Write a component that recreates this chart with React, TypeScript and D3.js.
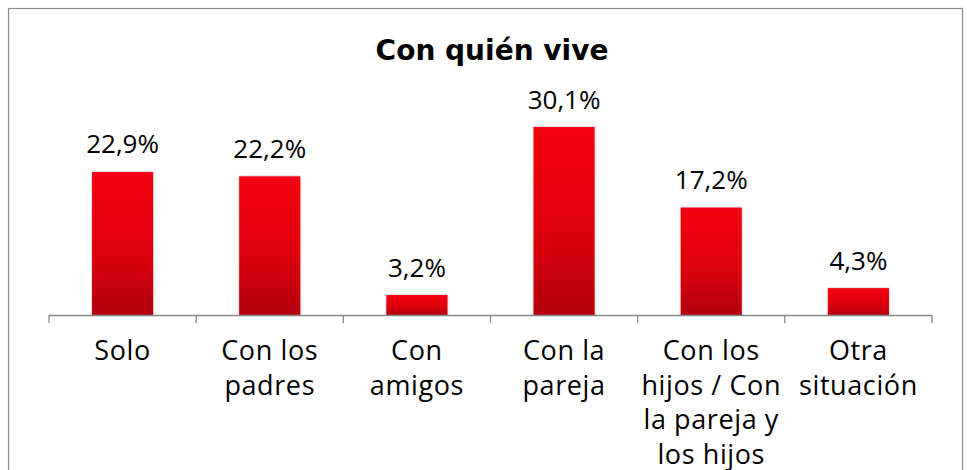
import React from "react";
import * as d3 from "d3";

const categories: string[][] = [
  ["Solo"],
  ["Con los", "padres"],
  ["Con", "amigos"],
  ["Con la", "pareja"],
  ["Con los", "hijos / Con", "la pareja y", "los hijos"],
  ["Otra", "situación"],
];
const values: number[] = [22.9, 22.2, 3.2, 30.1, 17.2, 4.3];
const title = "Con quién vive";

const W = 967;
const H = 470;
const FONT = "'Open Sans', 'DejaVu Sans', sans-serif";
const TITLE_FONT = "'DejaVu Sans', 'Open Sans', sans-serif";

export default function App() {
  const x = d3
    .scaleBand<number>()
    .domain(values.map((_, i) => i))
    .range([49, 932])
    .paddingInner(0.585)
    .paddingOuter(0.2925);
  const y = d3.scaleLinear().domain([0, 30.1]).range([315, 127]);
  const fmt = (v: number) => v.toFixed(1).replace(".", ",") + "%";
  const step = x.step();
  const ticks = d3.range(values.length + 1).map((i) => 49 + i * step);

  return (
    <svg
      width={W}
      height={H}
      style={{ position: "absolute", left: 0, top: 0, display: "block" }}
      fontFamily={FONT}
    >
      <defs>
        <linearGradient id="barGrad" x1="0" y1="0" x2="0" y2="1">
          <stop offset="0%" stopColor="#f40212" />
          <stop offset="55%" stopColor="#de000c" />
          <stop offset="100%" stopColor="#b30009" />
        </linearGradient>
        <filter id="sh" x="-20%" y="-20%" width="140%" height="140%">
          <feGaussianBlur in="SourceAlpha" stdDeviation="1.2" />
          <feOffset dx="0" dy="0" result="b" />
          <feComponentTransfer>
            <feFuncA type="linear" slope="0.35" />
          </feComponentTransfer>
          <feMerge>
            <feMergeNode />
            <feMergeNode in="SourceGraphic" />
          </feMerge>
        </filter>
      </defs>
      <rect x={0} y={0} width={W} height={H} fill="#ffffff" />
      <rect x={8.5} y={8.5} width={954} height={H} fill="none" stroke="#8c8c8c" strokeWidth={1.2} />
      <text
        x={492}
        y={60}
        textAnchor="middle"
        fontSize={28}
        fontWeight="bold"
        fontFamily={TITLE_FONT}
        fill="#000"
      >
        {title}
      </text>
      {values.map((v, i) => (
        <g key={i}>
          <rect
            x={x(i)}
            y={y(v)}
            width={x.bandwidth()}
            height={y(0) - y(v)}
            fill="url(#barGrad)"
            filter="url(#sh)"
          />
          <text
            x={(x(i) as number) + x.bandwidth() / 2}
            y={y(v) - 18.5}
            textAnchor="middle"
            fontSize={26}
            fill="#000"
          >
            {fmt(v)}
          </text>
        </g>
      ))}
      <line x1={49} x2={932} y1={315.5} y2={315.5} stroke="#878787" strokeWidth={1.3} />
      {ticks.map((t, i) => (
        <line key={i} x1={t} x2={t} y1={315} y2={323} stroke="#878787" strokeWidth={1.3} />
      ))}
      {categories.map((lines, i) => (
        <text
          key={i}
          x={(x(i) as number) + x.bandwidth() / 2}
          textAnchor="middle"
          fontSize={27}
          letterSpacing={0.6}
          fill="#000"
        >
          {lines.map((l, j) => (
            <tspan key={j} x={(x(i) as number) + x.bandwidth() / 2} y={360 + j * 34.5}>
              {l}
            </tspan>
          ))}
        </text>
      ))}
    </svg>
  );
}
